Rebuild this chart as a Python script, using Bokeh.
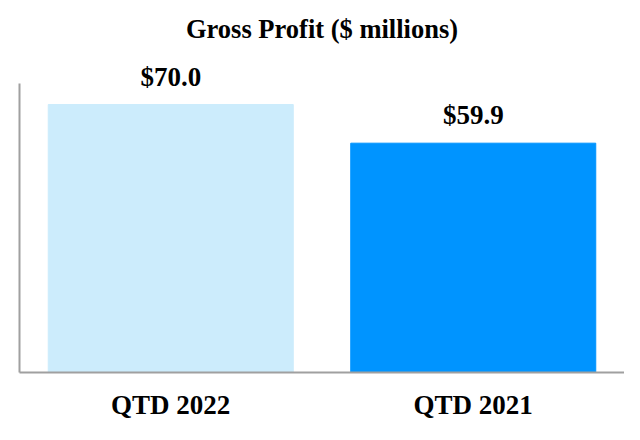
from bokeh.plotting import figure
from bokeh.models import ColumnDataSource, FixedTicker
from bokeh.core.properties import value
from bokeh.embed import file_html
from bokeh.resources import INLINE

categories = ["QTD 2022", "QTD 2021"]
values = [70.0, 59.9]
labels = ["$70.0", "$59.9"]
colors = ["#CCECFC", "#0094FF"]
y_axis_max = 75.5
y_view_max = 82.8

src = ColumnDataSource(dict(cat=categories, val=values, lab=labels, col=colors))

FONT = "Liberation Serif"

p = figure(x_range=categories, y_range=(0, y_view_max),
           frame_width=605, frame_height=317,
           output_backend="svg", toolbar_location=None,
           title="Gross Profit ($ millions)",
           min_border_left=19, min_border_right=0, min_border_top=0, min_border_bottom=0)

p.vbar(x="cat", top="val", width=0.81, color="col", source=src)
p.text(x="cat", y="val", text="lab", source=src, text_align="center",
       text_baseline="alphabetic", y_offset=-28, text_font=value(FONT),
       text_font_size="27px", text_font_style="bold", text_color="#000000")

p.title.text_font = FONT
p.title.text_font_size = "26.5px"
p.title.text_font_style = "bold"
p.title.align = "center"
p.title.text_color = "#000000"
p.title.padding = 5
p.title.standoff = 13

p.grid.visible = False
p.outline_line_color = None
p.background_fill_color = "white"
p.border_fill_color = "white"

p.yaxis.bounds = (0, y_axis_max)
p.yaxis.ticker = FixedTicker(ticks=[])
p.yaxis.major_label_text_font_size = "0px"
p.yaxis.major_tick_line_color = None
p.yaxis.minor_tick_line_color = None
p.yaxis.major_tick_out = 0
p.yaxis.major_tick_in = 0
p.yaxis.minor_tick_out = 0
p.yaxis.major_label_standoff = 0
p.yaxis.axis_line_color = "#A0A0A0"
p.yaxis.axis_line_width = 2

p.xaxis.axis_line_color = "#A0A0A0"
p.xaxis.axis_line_width = 2
p.xaxis.major_tick_line_color = None
p.xaxis.minor_tick_line_color = None
p.xaxis.major_tick_out = 0
p.xaxis.major_tick_in = 0
p.xaxis.major_label_text_font = FONT
p.xaxis.major_label_text_font_size = "27px"
p.xaxis.major_label_text_font_style = "bold"
p.xaxis.major_label_text_color = "#000000"
p.xaxis.major_label_standoff = 17
p.x_range.range_padding = 0

open("out.html", "w").write(file_html(p, INLINE))
